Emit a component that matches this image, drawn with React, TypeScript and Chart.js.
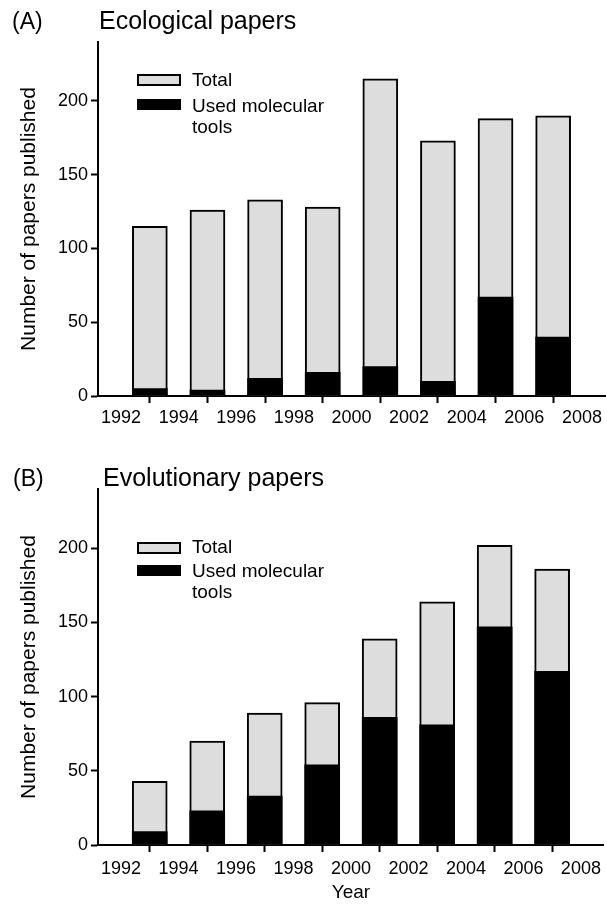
import React, { useEffect, useRef } from 'react';
import { Chart, registerables } from 'chart.js';

Chart.register(...registerables);

// ---- Data ----
const YEARS = [1993, 1995, 1997, 1999, 2001, 2003, 2005, 2007];
const ECO_TOTAL = [115, 126, 133, 128, 215, 173, 188, 190];
const ECO_MOLECULAR = [5, 4, 12, 16, 20, 10, 67, 40];
const EVO_TOTAL = [43, 70, 89, 96, 139, 164, 202, 186];
const EVO_MOLECULAR = [9, 23, 33, 54, 86, 81, 147, 117];
const X_TICKS = [1992, 1994, 1996, 1998, 2000, 2002, 2004, 2006, 2008];
const Y_TICKS = [0, 50, 100, 150, 200];
const SERIES_LABELS = ['Total', 'Used molecular tools'];
const Y_TITLE = 'Number of papers published';
const X_TITLE = 'Year';

const FONT = 'Arial, "Liberation Sans", Helvetica, sans-serif';
const GREY = '#dddddd';

type PanelProps = {
  top: number;
  height: number;
  chartTop: number;
  chartBottom: number;
  letter: string;
  title: string;
  total: number[];
  molecular: number[];
  showXTitle: boolean;
  tickPad: number;
  letterTop: number;
  letterLeft: number;
  titleTop: number;
  titleLeft: number;
  legendBox1Top: number;
  legendText1Top: number;
  legendBox2Top: number;
  legendText2Top: number;
};

function Panel(p: PanelProps) {
  const ref = useRef<HTMLCanvasElement | null>(null);

  useEffect(() => {
    if (!ref.current) return;
    const chart = new Chart(ref.current, {
      type: 'bar',
      data: {
        datasets: [
          {
            label: SERIES_LABELS[0],
            data: YEARS.map((x, i) => ({ x, y: p.total[i] })),
            backgroundColor: GREY,
            borderColor: '#000',
            borderWidth: 2,
            borderSkipped: 'start',
            barThickness: 35,
            grouped: false,
            order: 2,
          },
          {
            label: SERIES_LABELS[1],
            data: YEARS.map((x, i) => ({ x, y: p.molecular[i] })),
            backgroundColor: '#000',
            borderColor: '#000',
            borderWidth: 0,
            barThickness: 35,
            grouped: false,
            order: 1,
          },
        ],
      } as any,
      options: {
        animation: false,
        responsive: false,
        devicePixelRatio: 1,
        layout: { padding: { top: p.chartTop, right: 2, left: 0, bottom: 0 } },
        plugins: {
          legend: { display: false },
          tooltip: { enabled: false },
          title: { display: false },
        },
        scales: {
          x: {
            type: 'linear',
            min: 1991.2,
            max: 2008.8,
            offset: false,
            grid: {
              display: true,
              drawOnChartArea: false,
              drawTicks: true,
              tickLength: 7,
              tickWidth: 2,
              tickColor: '#000',
            },
            border: { display: true, color: '#000', width: 2 },
            ticks: {
              autoSkip: false,
              maxRotation: 0,
              color: '#000',
              padding: p.tickPad,
              font: { family: FONT, size: 18 },
              callback: (v: any) => String(v),
            },
            afterBuildTicks: (s: any) => {
              s.ticks = X_TICKS.map((v) => ({ value: v }));
            },
            afterFit: (s: any) => {
              s.height = p.height - p.chartBottom;
            },
            title: {
              display: p.showXTitle,
              text: X_TITLE,
              color: '#000',
              font: { family: FONT, size: 19 },
              padding: { top: 0, bottom: 0 },
            },
          },
          y: {
            type: 'linear',
            min: 0,
            max: 240,
            grid: {
              display: true,
              drawOnChartArea: false,
              drawTicks: true,
              tickLength: 7,
              tickWidth: 2,
              tickColor: '#000',
            },
            border: { display: true, color: '#000', width: 2 },
            ticks: {
              color: '#000',
              padding: 3,
              font: { family: FONT, size: 18 },
              callback: (v: any) => String(v),
            },
            afterBuildTicks: (s: any) => {
              s.ticks = Y_TICKS.map((v) => ({ value: v }));
            },
            afterFit: (s: any) => {
              s.width = 98;
            },
            title: {
              display: true,
              text: Y_TITLE,
              color: '#000',
              font: { family: FONT, size: 21 },
              padding: { top: 17, bottom: 0 },
            },
          },
        },
      } as any,
    });
    return () => chart.destroy();
  }, []);

  const abs = (left: number, top: number, extra: any = {}) => ({
    position: 'absolute' as const,
    left,
    top,
    ...extra,
  });

  return (
    <div style={{ position: 'absolute', left: 0, top: p.top, width: 607, height: p.height }}>
      <canvas
        ref={ref}
        width={607}
        height={p.height}
        style={{ position: 'absolute', left: 0, top: 0, width: 607, height: p.height, display: 'block' }}
      />
      <div style={abs(p.letterLeft, p.letterTop, { fontSize: 23, lineHeight: '23px', whiteSpace: 'nowrap' })}>
        {p.letter}
      </div>
      <div style={abs(p.titleLeft, p.titleTop, { fontSize: 25, lineHeight: '25px', whiteSpace: 'nowrap' })}>
        {p.title}
      </div>
      <div
        style={abs(137, p.legendBox1Top, {
          width: 44,
          height: 12,
          boxSizing: 'border-box',
          border: '2px solid #000',
          background: GREY,
        })}
      />
      <div style={abs(192, p.legendText1Top, { fontSize: 19, lineHeight: '21px', whiteSpace: 'nowrap' })}>
        {SERIES_LABELS[0]}
      </div>
      <div style={abs(137, p.legendBox2Top, { width: 44, height: 11, background: '#000' })} />
      <div style={abs(192, p.legendText2Top, { fontSize: 19, lineHeight: '21px', width: 150 })}>
        {SERIES_LABELS[1]}
      </div>
    </div>
  );
}

export default function App() {
  return (
    <div
      style={{
        position: 'fixed',
        left: 0,
        top: 0,
        width: 607,
        height: 904,
        background: '#fff',
        color: '#000',
        fontFamily: FONT,
        overflow: 'hidden',
      }}
    >
      <Panel
        top={0}
        height={440}
        chartTop={42}
        chartBottom={396}
        letter="(A)"
        title="Ecological papers"
        total={ECO_TOTAL}
        molecular={ECO_MOLECULAR}
        showXTitle={false}
        tickPad={4}
        letterLeft={12}
        letterTop={10}
        titleLeft={99}
        titleTop={8}
        legendBox1Top={74}
        legendText1Top={69}
        legendBox2Top={99}
        legendText2Top={95}
      />
      <Panel
        top={450}
        height={454}
        chartTop={39}
        chartBottom={395}
        letter="(B)"
        title="Evolutionary papers"
        total={EVO_TOTAL}
        molecular={EVO_MOLECULAR}
        showXTitle={true}
        tickPad={6}
        letterLeft={13}
        letterTop={17}
        titleLeft={103}
        titleTop={15}
        legendBox1Top={92}
        legendText1Top={86}
        legendBox2Top={115}
        legendText2Top={110}
      />
    </div>
  );
}
